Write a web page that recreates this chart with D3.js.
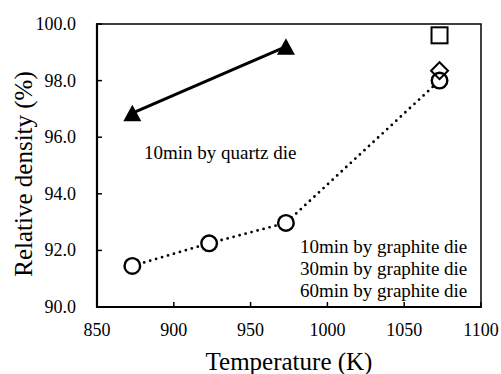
<!DOCTYPE html>
<html><head><meta charset="utf-8"><script src="https://cdn.jsdelivr.net/npm/d3@7"></script>
<style>
  svg text, text { font-family: "Liberation Serif", "Times New Roman", Tinos, serif !important; }
</style>
</head>
<body style="margin:0">
<svg id="chart" width="501" height="374" style="font-family: 'Liberation Serif', serif"></svg>
<script>
// ---- data ----
const quartzTemp = [873, 973];
const quartzDensity = [96.85, 99.2];
const graphite10Temp = [873, 923, 973, 1073];
const graphite10Density = [91.45, 92.25, 92.97, 98.0];
const graphite30Temp = [1073];
const graphite30Density = [98.35];
const graphite60Temp = [1073];
const graphite60Density = [99.6];
const xTicks = [850, 900, 950, 1000, 1050, 1100];
const yTicks = [90, 92, 94, 96, 98, 100];
const legendLabels = ["10min by graphite die", "30min by graphite die", "60min by graphite die"];
const quartzLabel = "10min by quartz die";

// ---- layout ----
const L = 97, R = 481, T = 24, B = 307;
const svg = d3.select("#chart");
const x = d3.scaleLinear().domain([850, 1100]).range([L, R]);
const y = d3.scaleLinear().domain([90, 100]).range([B, T]);

function serif(sel, size) {
  return sel.attr("font-size", size).attr("fill", "#000")
    .attr("font-family", "Liberation Serif")
    .style("font-family", '"Liberation Serif", "Times New Roman", serif', "important");
}

// plot box
svg.append("rect").attr("x", L).attr("y", T).attr("width", R - L).attr("height", B - T)
  .attr("fill", "none").attr("stroke", "#000").attr("stroke-width", 1.5);
svg.append("line").attr("x1", L).attr("x2", L).attr("y1", T - 0.75).attr("y2", B + 1)
  .attr("stroke", "#000").attr("stroke-width", 2.2);
svg.append("line").attr("x1", L - 1).attr("x2", R + 0.75).attr("y1", B).attr("y2", B)
  .attr("stroke", "#000").attr("stroke-width", 2.2);

// x ticks (inward) and labels from the scale
svg.selectAll(".xt").data(xTicks).enter().append("line")
  .attr("x1", d => x(d)).attr("x2", d => x(d)).attr("y1", B).attr("y2", B - 5)
  .attr("stroke", "#000").attr("stroke-width", 1.5);
serif(svg.selectAll(".xl").data(xTicks).enter().append("text")
  .attr("x", d => x(d)).attr("y", B + 29).attr("text-anchor", "middle")
  .text(d => d3.format("d")(d)), 18);

// y ticks (inward) and labels
svg.selectAll(".yt").data(yTicks).enter().append("line")
  .attr("x1", L).attr("x2", L + 5).attr("y1", d => y(d)).attr("y2", d => y(d))
  .attr("stroke", "#000").attr("stroke-width", 1.5);
serif(svg.selectAll(".yl").data(yTicks).enter().append("text")
  .attr("x", L - 21).attr("y", d => y(d) + 6).attr("text-anchor", "end")
  .text(d => d3.format(".1f")(d)), 18);

// axis titles
serif(svg.append("text").attr("x", (L + R) / 2).attr("y", 370).attr("text-anchor", "middle")
  .text("Temperature (K)"), 25);
serif(svg.append("text").attr("transform", `translate(32,174) rotate(-90)`)
  .attr("text-anchor", "middle").text("Relative density (%)"), 25);

// quartz series
const quartz = quartzTemp.map((t, i) => [t, quartzDensity[i]]);
svg.append("path").datum(quartz)
  .attr("d", d3.line().x(d => x(d[0])).y(d => y(d[1])))
  .attr("fill", "none").attr("stroke", "#000").attr("stroke-width", 3);
svg.selectAll(".tri").data(quartz).enter().append("path")
  .attr("d", d => {
    const cx = x(d[0]), cy = y(d[1]);
    return `M${cx},${cy - 8.5}L${cx + 9},${cy + 8}L${cx - 9},${cy + 8}Z`;
  })
  .attr("fill", "#000");

// graphite 10 min
const g10 = graphite10Temp.map((t, i) => [t, graphite10Density[i]]);
svg.append("path").datum(g10)
  .attr("d", d3.line().x(d => x(d[0])).y(d => y(d[1])))
  .attr("fill", "none").attr("stroke", "#000").attr("stroke-width", 2.8)
  .attr("stroke-linecap", "round").attr("stroke-dasharray", "0 6.2");

// 60 min square
const g60 = graphite60Temp.map((t, i) => [t, graphite60Density[i]]);
svg.selectAll(".sq").data(g60).enter().append("rect")
  .attr("x", d => x(d[0]) - 8).attr("y", d => y(d[1]) - 8)
  .attr("width", 16).attr("height", 16)
  .attr("fill", "#fff").attr("stroke", "#000").attr("stroke-width", 2);

// 10 min circles
svg.selectAll(".circ").data(g10).enter().append("circle")
  .attr("cx", d => x(d[0])).attr("cy", d => y(d[1])).attr("r", 7.8)
  .attr("fill", "#fff").attr("stroke", "#000").attr("stroke-width", 2.4);

// 30 min diamond
const g30 = graphite30Temp.map((t, i) => [t, graphite30Density[i]]);
svg.selectAll(".dia").data(g30).enter().append("path")
  .attr("d", d => {
    const cx = x(d[0]), cy = y(d[1]);
    return `M${cx},${cy - 8.5}L${cx + 8.5},${cy}L${cx},${cy + 8.5}L${cx - 8.5},${cy}Z`;
  })
  .attr("fill", "none").attr("stroke", "#000").attr("stroke-width", 2);

// annotations
serif(svg.append("text").attr("x", 144).attr("y", 159).text(quartzLabel), 19);
serif(svg.selectAll(".leg").data(legendLabels).enter().append("text")
  .attr("x", 300).attr("y", (d, i) => 253 + i * 22).text(d => d), 19);
</script>
</body>
</html>
